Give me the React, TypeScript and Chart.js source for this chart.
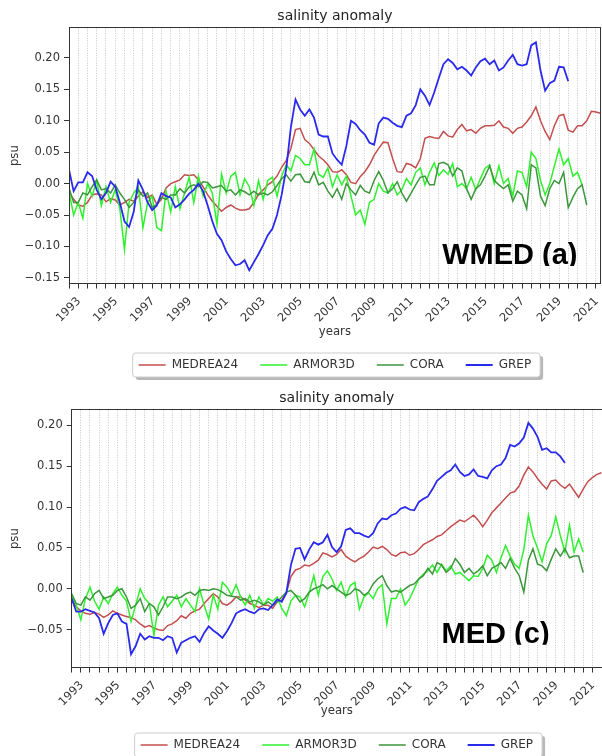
import { useEffect, useRef } from 'react';
import { Chart, registerables } from 'chart.js';

Chart.register(...registerables);
Chart.defaults.font.family = "'DejaVu Sans', sans-serif";

// ---- data (quarterly samples) ----
const START_YEAR = 1993;
const STEP = 0.25;
const YEAR_LABELS = [1993, 1995, 1997, 1999, 2001, 2003, 2005, 2007, 2009, 2011, 2013, 2015, 2017, 2019, 2021];
const SERIES_NAMES = ['MEDREA24', 'ARMOR3D', 'CORA', 'GREP'];
const SERIES_COLORS = ['#c44e4e', '#2ef02e', '#3c963c', '#2a2aee'];
const SERIES_WIDTHS = [1.5, 1.5, 1.5, 1.8];

const WMED_YTICKS = [-0.15, -0.1, -0.05, 0, 0.05, 0.1, 0.15, 0.2];
const MED_YTICKS = [-0.05, 0, 0.05, 0.1, 0.15, 0.2];

const WMED_MEDREA24 = [
  -0.013, -0.025, -0.034, -0.036,
  -0.030, -0.018, -0.016, -0.018,
  -0.029, -0.024, -0.026, -0.034,
  -0.030, -0.025, -0.028, -0.020,
  -0.013, -0.022, -0.018, -0.033,
  -0.025, -0.007, 0.000, 0.003,
  0.006, 0.014, 0.013, 0.014,
  0.006, -0.005, -0.018, -0.028,
  -0.036, -0.044, -0.038, -0.034,
  -0.039, -0.042, -0.042, -0.040,
  -0.030, -0.017, -0.010, -0.002,
  0.003, 0.012, 0.026, 0.037,
  0.056, 0.086, 0.088, 0.070,
  0.064, 0.054, 0.044, 0.038,
  0.030, 0.019, 0.018, 0.022,
  0.014, 0.002, 0.000, 0.011,
  0.019, 0.030, 0.045, 0.056,
  0.066, 0.065, 0.040, 0.019,
  0.018, 0.032, 0.030, 0.025,
  0.040, 0.072, 0.075, 0.073,
  0.072, 0.083, 0.076, 0.074,
  0.086, 0.094, 0.084, 0.086,
  0.080, 0.088, 0.092, 0.092,
  0.093, 0.100, 0.090, 0.088,
  0.080, 0.088, 0.090, 0.098,
  0.108, 0.122, 0.100, 0.083,
  0.070, 0.092, 0.108, 0.110,
  0.085, 0.082, 0.092, 0.092,
  0.100, 0.115, 0.114, 0.112,
];

const WMED_ARMOR3D = [
  -0.013, -0.050, -0.030, -0.055,
  0.000, -0.020, 0.005, -0.035,
  -0.005, -0.030, -0.010, -0.040,
  -0.105, -0.030, -0.015, -0.005,
  -0.070, -0.030, -0.020, -0.070,
  -0.075, -0.012, -0.045, -0.005,
  -0.040, -0.015, 0.010, -0.030,
  0.012, -0.020, 0.000, -0.015,
  -0.065, 0.015, -0.015, 0.012,
  0.018, -0.018, 0.008, -0.005,
  -0.035, 0.005, -0.025, 0.005,
  0.010, -0.020, 0.012, 0.030,
  0.020, 0.045, 0.040, 0.030,
  0.030, 0.055, 0.015, 0.010,
  0.025, -0.005, 0.014, -0.002,
  0.012, -0.020, -0.050, -0.042,
  -0.065, -0.030, -0.025, 0.000,
  -0.012, -0.015, 0.000, -0.018,
  -0.010, 0.008, -0.002, 0.018,
  0.025, -0.002, 0.018, 0.033,
  0.013, 0.022, 0.015, 0.032,
  -0.005, 0.000, -0.008, 0.010,
  -0.010, 0.008, 0.024, 0.030,
  0.000, 0.028, 0.000, 0.008,
  -0.020, 0.020, 0.018, -0.005,
  0.050, 0.040, 0.005, -0.018,
  0.000, 0.028, 0.055, 0.030,
  0.040, 0.012, 0.018, -0.002,
];

const WMED_CORA = [
  -0.007, -0.030, -0.030, -0.015,
  -0.018, -0.005, 0.006, -0.010,
  -0.008, -0.015, -0.002, -0.015,
  -0.025, -0.038, -0.030, -0.010,
  -0.020, -0.015, -0.038, -0.033,
  -0.022, -0.025, -0.018, -0.018,
  -0.008, -0.015, -0.005, -0.002,
  -0.005, 0.003, 0.002, -0.007,
  -0.005, -0.003, -0.012, -0.010,
  -0.018, -0.010, -0.013, -0.018,
  -0.012, -0.018, -0.015, -0.018,
  -0.013, -0.003, 0.008, 0.014,
  0.004, 0.014, 0.015, 0.003,
  0.002, 0.018, -0.002, 0.002,
  -0.012, -0.022, -0.008, -0.025,
  0.000, -0.010, -0.018, -0.003,
  -0.012, -0.015, 0.005, 0.019,
  0.005, -0.015, -0.008, 0.003,
  -0.015, -0.028, -0.015, -0.002,
  0.010, 0.012, -0.002, -0.002,
  0.032, 0.034, 0.030, 0.012,
  0.025, 0.020, -0.008, -0.025,
  -0.008, -0.002, 0.012, 0.028,
  0.005, -0.002, -0.008, -0.002,
  -0.028, -0.012, -0.018, -0.040,
  0.030, 0.025, -0.020, -0.035,
  -0.008, 0.005, 0.000, 0.018,
  -0.038, -0.022, -0.008, -0.002,
  -0.034,
];

const WMED_GREP = [
  0.022, -0.012, 0.002, 0.002,
  0.018, 0.012, -0.010, -0.025,
  -0.015, 0.003, -0.005, -0.030,
  -0.060, -0.069, -0.045, 0.005,
  -0.010, -0.030, -0.042, -0.035,
  -0.015, -0.020, -0.022, -0.038,
  -0.033, -0.025, -0.016, -0.010,
  0.000, -0.012, -0.035, -0.060,
  -0.080, -0.090, -0.108, -0.120,
  -0.130, -0.128, -0.122, -0.138,
  -0.125, -0.112, -0.098, -0.082,
  -0.072, -0.050, -0.018, 0.024,
  0.090, 0.134, 0.118, 0.108,
  0.118, 0.105, 0.078, 0.075,
  0.075, 0.048, 0.038, 0.030,
  0.060, 0.100, 0.095, 0.085,
  0.078, 0.065, 0.062, 0.096,
  0.105, 0.103, 0.097, 0.092,
  0.090, 0.108, 0.112, 0.125,
  0.150, 0.140, 0.125, 0.145,
  0.168, 0.190, 0.198, 0.192,
  0.182, 0.186, 0.180, 0.172,
  0.185, 0.195, 0.199, 0.190,
  0.196, 0.180, 0.185, 0.196,
  0.205, 0.190, 0.188, 0.190,
  0.220, 0.225, 0.180, 0.148,
  0.160, 0.164, 0.186, 0.185,
  0.163,
];

const MED_MEDREA24 = [
  -0.012, -0.022, -0.027, -0.030,
  -0.031, -0.029, -0.031, -0.035,
  -0.032, -0.027, -0.030, -0.032,
  -0.034, -0.035, -0.038, -0.043,
  -0.047, -0.045, -0.048, -0.050,
  -0.051, -0.045, -0.043, -0.039,
  -0.033, -0.036, -0.030, -0.027,
  -0.025, -0.018, -0.012, -0.006,
  -0.010, -0.018, -0.020, -0.016,
  -0.010, -0.010, -0.014, -0.018,
  -0.020, -0.023, -0.020, -0.020,
  -0.024, -0.016, -0.014, -0.005,
  0.015, 0.023, 0.025, 0.029,
  0.028, 0.031, 0.035, 0.044,
  0.042, 0.039, 0.042, 0.048,
  0.040, 0.036, 0.033, 0.037,
  0.040, 0.045, 0.051, 0.049,
  0.052, 0.048, 0.042, 0.040,
  0.044, 0.045, 0.041, 0.043,
  0.048, 0.054, 0.057, 0.060,
  0.064, 0.066, 0.071, 0.076,
  0.080, 0.084, 0.082, 0.086,
  0.090, 0.084, 0.076, 0.084,
  0.093, 0.099, 0.105, 0.111,
  0.117, 0.119, 0.126, 0.139,
  0.149, 0.143, 0.135, 0.128,
  0.122, 0.132, 0.133, 0.127,
  0.123, 0.128, 0.120, 0.112,
  0.122, 0.131, 0.136, 0.140,
  0.142,
];

const MED_ARMOR3D = [
  -0.008, -0.020, -0.038, -0.012,
  0.002, -0.015, -0.025, -0.010,
  -0.018, -0.006, 0.002, -0.008,
  -0.015, -0.040, -0.020, 0.000,
  -0.012, -0.018, -0.057, -0.020,
  -0.010, -0.022, -0.015, -0.008,
  -0.022, -0.012, -0.020, -0.028,
  0.000, -0.020, -0.037, -0.008,
  -0.025, 0.008, 0.002, -0.008,
  0.005, -0.010, -0.020, -0.008,
  -0.024, -0.010, -0.020, -0.012,
  -0.015, -0.010, -0.024, -0.033,
  -0.015, -0.008, -0.010, -0.022,
  -0.005, 0.016, -0.008, 0.015,
  0.022, 0.012, -0.002, 0.008,
  -0.010, 0.004, 0.008, -0.025,
  -0.010, -0.005, -0.012, 0.000,
  0.005, -0.043, -0.012, -0.012,
  0.000, -0.020, -0.012, 0.000,
  0.012, 0.018, 0.022, 0.029,
  0.020, 0.030, 0.022, 0.028,
  0.018, 0.020, 0.015, 0.010,
  0.016, 0.015, 0.025, 0.041,
  0.035, 0.020, 0.038, 0.053,
  0.040, 0.030, 0.025, 0.048,
  0.090, 0.065, 0.050, 0.033,
  0.055, 0.065, 0.088, 0.065,
  0.045, 0.078, 0.045, 0.061,
  0.045,
];

const MED_CORA = [
  -0.006, -0.018, -0.020, -0.010,
  -0.014, -0.006, -0.002, -0.012,
  -0.010, -0.008, -0.002, 0.000,
  -0.010, -0.024, -0.020, -0.012,
  -0.028, -0.018, -0.022, -0.032,
  -0.022, -0.010, -0.010, -0.012,
  -0.010, -0.006, -0.004, -0.008,
  -0.002, -0.001, -0.002, 0.000,
  -0.001, -0.004, -0.008, -0.009,
  -0.010, -0.014, -0.012, -0.016,
  -0.014, -0.016, -0.020, -0.016,
  -0.020, -0.016, -0.010, -0.004,
  -0.002, -0.008, -0.016, -0.012,
  -0.004, 0.000, 0.002, 0.005,
  0.000, 0.004, 0.000, -0.004,
  -0.008, -0.006, 0.000, -0.002,
  -0.008, -0.004, 0.006, 0.012,
  0.016, 0.004, -0.004, -0.002,
  -0.004, 0.000, 0.004, 0.006,
  0.012, 0.016, 0.025, 0.018,
  0.032, 0.029, 0.020, 0.025,
  0.037, 0.030, 0.020, 0.025,
  0.018, 0.022, 0.028, 0.016,
  0.025, 0.028, 0.032, 0.025,
  0.037, 0.025, 0.016, -0.004,
  0.035, 0.049, 0.030, 0.028,
  0.022, 0.036, 0.049, 0.040,
  0.049, 0.038, 0.040, 0.040,
  0.020,
];

const MED_GREP = [
  -0.012, -0.028, -0.028, -0.025,
  -0.027, -0.029, -0.036, -0.055,
  -0.042, -0.032, -0.030, -0.040,
  -0.043, -0.080, -0.070, -0.055,
  -0.062, -0.058, -0.060, -0.060,
  -0.063, -0.058, -0.060, -0.078,
  -0.066, -0.063, -0.060, -0.058,
  -0.065, -0.054, -0.046, -0.051,
  -0.055, -0.060, -0.052, -0.042,
  -0.030, -0.027, -0.025, -0.028,
  -0.030, -0.025, -0.024, -0.026,
  -0.020, -0.013, -0.016, -0.005,
  0.029, 0.049, 0.050, 0.036,
  0.048, 0.057, 0.054, 0.057,
  0.066, 0.051, 0.045, 0.052,
  0.072, 0.074, 0.068, 0.068,
  0.065, 0.063, 0.068, 0.080,
  0.086, 0.085, 0.090, 0.092,
  0.098, 0.100, 0.097, 0.096,
  0.106, 0.110, 0.113, 0.122,
  0.132, 0.137, 0.142, 0.145,
  0.152, 0.143, 0.138, 0.140,
  0.146, 0.138, 0.137, 0.135,
  0.145, 0.150, 0.152, 0.160,
  0.176, 0.174, 0.178, 0.185,
  0.203, 0.196, 0.186, 0.170,
  0.172, 0.167, 0.167, 0.162,
  0.154,
];

// ---- layout / style per panel ----
type Panel = {
  series: number[][];
  yMin: number; yMax: number; yTicks: number[];
  xMax: number;
  yAxisWidth: number; xAxisHeight: number; xTitlePadBottom: number;
  label: string; labelX: number; labelY: number;
};

const WMED_PANEL: Panel = {
  series: [WMED_MEDREA24, WMED_ARMOR3D, WMED_CORA, WMED_GREP],
  yMin: -0.159, yMax: 0.248, yTicks: WMED_YTICKS, xMax: 2021.76,
  yAxisWidth: 69, xAxisHeight: 53.5, xTitlePadBottom: -2,
  label: 'WMED (a)', labelX: 2013.18, labelY: -0.1278,
};

const MED_PANEL: Panel = {
  series: [MED_MEDREA24, MED_ARMOR3D, MED_CORA, MED_GREP],
  yMin: -0.0963, yMax: 0.219, yTicks: MED_YTICKS, xMax: 2022.03,
  yAxisWidth: 71.7, xAxisHeight: 49.5, xTitlePadBottom: -0.7,
  label: 'MED (c)', labelX: 2013.25, labelY: -0.066,
};

const HALF_YEAR_TICKS: number[] = [];
for (let v = START_YEAR; v <= 2021.5; v += 0.5) HALF_YEAR_TICKS.push(v);

const FONT = "'DejaVu Sans', sans-serif";
const TEXT = '#333333';

function roundedRect(ctx: CanvasRenderingContext2D, x: number, y: number, w: number, h: number, r: number) {
  ctx.beginPath();
  ctx.moveTo(x + r, y);
  ctx.lineTo(x + w - r, y);
  ctx.arcTo(x + w, y, x + w, y + r, r);
  ctx.lineTo(x + w, y + h - r);
  ctx.arcTo(x + w, y + h, x + w - r, y + h, r);
  ctx.lineTo(x + r, y + h);
  ctx.arcTo(x, y + h, x, y + h - r, r);
  ctx.lineTo(x, y + r);
  ctx.arcTo(x, y, x + r, y, r);
  ctx.closePath();
}

function makeChart(canvas: HTMLCanvasElement, p: Panel) {
  const datasets = p.series.map((vals, k) => ({
    label: SERIES_NAMES[k],
    data: vals.map((v, i) => ({ x: START_YEAR + i * STEP, y: v })),
    borderColor: SERIES_COLORS[k],
    backgroundColor: SERIES_COLORS[k],
    borderWidth: SERIES_WIDTHS[k],
    pointRadius: 0,
    tension: 0,
    fill: false,
    order: 4 - k,
  }));

  const legendBox = {
    id: 'legendBox',
    beforeDraw(chart: any) {
      const hb = chart.legend && chart.legend.legendHitBoxes;
      if (!hb || !hb.length) return;
      const ctx = chart.ctx as CanvasRenderingContext2D;
      const first = hb[0];
      const last = hb[hb.length - 1];
      const x0 = first.left - 6;
      const x1 = last.left + last.width + 9;
      const cy = first.top + first.height / 2;
      const y0 = cy - 12;
      const w = x1 - x0;
      const h = 24;
      ctx.save();
      ctx.fillStyle = 'rgba(0,0,0,0.28)';
      roundedRect(ctx, x0 + 3, y0 + 3, w, h, 3);
      ctx.fill();
      ctx.fillStyle = '#ffffff';
      roundedRect(ctx, x0, y0, w, h, 3);
      ctx.fill();
      ctx.strokeStyle = '#cccccc';
      ctx.lineWidth = 1;
      ctx.stroke();
      ctx.restore();
    },
  };

  const frameAndLabel = {
    id: 'frameAndLabel',
    afterDraw(chart: any) {
      const ctx = chart.ctx as CanvasRenderingContext2D;
      const a = chart.chartArea;
      ctx.save();
      ctx.strokeStyle = TEXT;
      ctx.lineWidth = 1;
      const l = Math.floor(a.left) + 0.5;
      const t = Math.floor(a.top) + 0.5;
      const r = Math.floor(a.right) + 0.5;
      const b = Math.floor(a.bottom) + 0.5;
      ctx.strokeRect(l, t, r - l, b - t);
      const x = chart.scales.x.getPixelForValue(p.labelX);
      const y = chart.scales.y.getPixelForValue(p.labelY);
      ctx.beginPath();
      ctx.rect(a.left, a.top, a.right - a.left, y + 2 - a.top);
      ctx.clip();
      ctx.font = "bold 29px 'Liberation Sans', Arial, sans-serif";
      ctx.fillStyle = '#000000';
      ctx.textAlign = 'left';
      ctx.textBaseline = 'alphabetic';
      ctx.fillText(p.label, x, y);
      ctx.restore();
    },
  };

  return new Chart(canvas, {
    type: 'line',
    data: { datasets },
    options: {
      responsive: false,
      animation: false,
      devicePixelRatio: 1,
      events: [],
      layout: { padding: 0 },
      plugins: {
        title: {
          display: true,
          text: 'salinity anomaly',
          color: '#222222',
          font: { size: 14, family: FONT, weight: 'normal' },
          padding: { top: 8, bottom: 3 },
          fullSize: false,
        },
        legend: {
          display: true,
          position: 'bottom',
          align: 'center',
          fullSize: false,
          labels: {
            usePointStyle: true,
            pointStyle: 'line',
            pointStyleWidth: 27,
            padding: 22,
            color: TEXT,
            font: { size: 12, family: FONT },
            sort: (a: any, b: any) => a.datasetIndex - b.datasetIndex,
          },
        },
        tooltip: { enabled: false },
      },
      scales: {
        x: {
          type: 'linear',
          min: START_YEAR,
          max: p.xMax,
          afterBuildTicks: (axis: any) => {
            axis.ticks = HALF_YEAR_TICKS.map((v) => ({ value: v }));
          },
          afterFit: (s: any) => {
            s.height = p.xAxisHeight;
          },
          ticks: {
            autoSkip: false,
            minRotation: 45,
            maxRotation: 45,
            labelOffset: 10,
            padding: 6,
            color: TEXT,
            font: { size: 11.5, family: FONT },
            callback: (v: any) => (YEAR_LABELS.includes(Number(v)) ? String(v) : []),
          },
          grid: {
            display: true,
            drawOnChartArea: true,
            color: '#c6c6c6',
            lineWidth: 1,
            drawTicks: true,
            tickLength: 5,
            tickColor: TEXT,
            tickWidth: 1,
            tickBorderDash: [],
          },
          border: { display: true, color: TEXT, width: 1, dash: [1, 1.5] },
          title: {
            display: true,
            text: 'years',
            color: TEXT,
            font: { size: 11.7, family: FONT },
            padding: { top: 0, bottom: p.xTitlePadBottom },
          },
        },
        y: {
          type: 'linear',
          min: p.yMin,
          max: p.yMax,
          afterBuildTicks: (axis: any) => {
            axis.ticks = p.yTicks.map((v) => ({ value: v }));
          },
          afterFit: (s: any) => {
            s.width = p.yAxisWidth;
          },
          ticks: {
            padding: 4,
            color: TEXT,
            font: { size: 11.5, family: FONT },
            callback: (v: any) => {
              const n = Number(v);
              return (n < -1e-9 ? '\u2212' : '') + Math.abs(n).toFixed(2);
            },
          },
          grid: {
            display: true,
            drawOnChartArea: false,
            drawTicks: true,
            tickLength: 5,
            tickColor: TEXT,
            tickWidth: 1,
          },
          border: { display: true, color: TEXT, width: 1 },
          title: {
            display: true,
            text: 'psu',
            color: TEXT,
            font: { size: 11.7, family: FONT },
            padding: { top: 8, bottom: 0 },
          },
        },
      },
    } as any,
    plugins: [legendBox, frameAndLabel],
  });
}

export default function App() {
  const topRef = useRef<HTMLCanvasElement>(null);
  const botRef = useRef<HTMLCanvasElement>(null);

  useEffect(() => {
    const charts: Chart[] = [];
    if (topRef.current) charts.push(makeChart(topRef.current, WMED_PANEL));
    if (botRef.current) charts.push(makeChart(botRef.current, MED_PANEL));
    return () => {
      charts.forEach((c) => c.destroy());
    };
  }, []);

  return (
    <div
      style={{
        position: 'fixed',
        left: 0,
        top: 0,
        width: 602,
        height: 756,
        overflow: 'hidden',
        background: '#ffffff',
      }}
    >
      <canvas
        ref={topRef}
        width={602}
        height={381}
        style={{ position: 'absolute', left: 0, top: 0, width: 602, height: 381 }}
      />
      <canvas
        ref={botRef}
        width={602}
        height={379}
        style={{ position: 'absolute', left: 0, top: 382, width: 602, height: 379 }}
      />
    </div>
  );
}
